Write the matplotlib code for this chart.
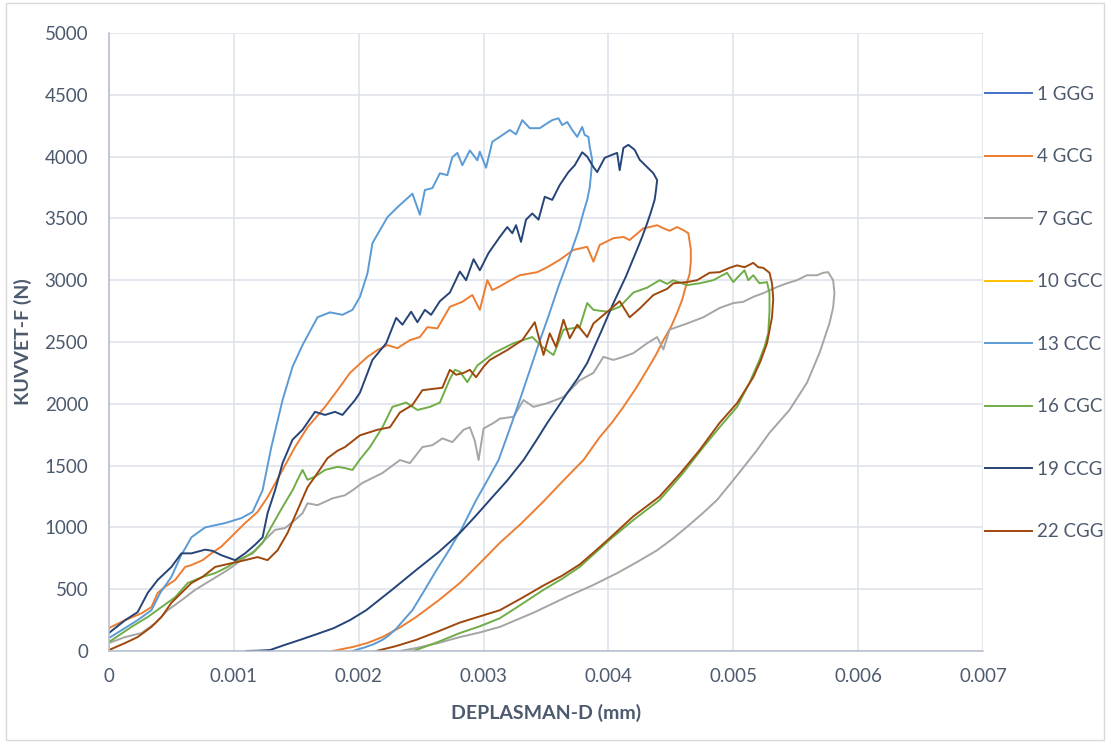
import matplotlib
matplotlib.use("Agg")
import matplotlib.pyplot as plt
from matplotlib.patches import Rectangle
import numpy as np

plt.rcParams['font.family'] = ['Lato', 'DejaVu Sans']

# Displacement values are given in units of 1e-3 mm, force in N
labels = ["1 GGG", "4 GCG", "7 GGC", "10 GCC", "13 CCC", "16 CGC", "19 CCG", "22 CGG"]
colors = ["#4472C4", "#ED7D31", "#A5A5A5", "#FFC000", "#5B9BD5", "#70AD47", "#264478", "#9E480E"]

ggg_x = []
ggg_y = []

gcc_x = []
gcc_y = []

gcg_x = [0, 0.13, 0.26, 0.34, 0.39, 0.45, 0.53, 0.61, 0.66, 0.75, 0.82, 0.90, 1.01, 1.09, 1.19, 1.27,
         1.39, 1.49, 1.59, 1.73, 1.83, 1.93, 2.07, 2.15, 2.23, 2.31, 2.41, 2.49, 2.55, 2.63, 2.73, 2.83,
         2.91, 2.97, 3.03, 3.07, 3.13, 3.19, 3.29, 3.43, 3.51, 3.61, 3.72, 3.83, 3.88, 3.93, 4.04, 4.12,
         4.17, 4.28, 4.33, 4.39, 4.44, 4.49, 4.55, 4.60, 4.64,
         4.66, 4.66, 4.65, 4.62, 4.59, 4.55, 4.50, 4.44, 4.38, 4.31, 4.22, 4.12, 4.03, 3.93, 3.80, 3.64,
         3.47, 3.30, 3.13, 2.97, 2.81, 2.64, 2.46, 2.33, 2.19, 2.07, 1.95, 1.79]
gcg_y = [186, 250, 305, 355, 470, 520, 575, 680, 695, 735, 790, 845, 955, 1035, 1125, 1245,
         1465, 1650, 1810, 1975, 2110, 2250, 2380, 2435, 2475, 2450, 2515, 2540, 2620, 2610, 2785, 2825,
         2880, 2760, 3000, 2920, 2950, 2985, 3040, 3065, 3105, 3165, 3245, 3270, 3150, 3285, 3340, 3350,
         3325, 3420, 3430, 3445, 3420, 3400, 3430, 3405, 3380,
         3250, 3150, 3050, 2950, 2840, 2735, 2620, 2515, 2395, 2275, 2125, 1975, 1850, 1730, 1545, 1380,
         1200, 1030, 875, 710, 550, 410, 275, 190, 113, 65, 32, 0]

ggc_x = [0, 0.13, 0.26, 0.37, 0.47, 0.58, 0.69, 0.82, 0.95, 1.06, 1.17, 1.25, 1.33, 1.41, 1.49, 1.55,
         1.59, 1.67, 1.79, 1.89, 1.95, 2.03, 2.19, 2.33, 2.41, 2.51, 2.59, 2.67, 2.75, 2.84, 2.89, 2.93,
         2.96, 3.00, 3.08, 3.13, 3.24, 3.32, 3.40, 3.51, 3.64, 3.77, 3.88, 3.96, 4.04, 4.12, 4.20, 4.31,
         4.39, 4.44, 4.49, 4.63, 4.76, 4.89, 5.00, 5.08, 5.16, 5.24, 5.35, 5.43, 5.51, 5.59, 5.67, 5.72,
         5.76, 5.80, 5.81,
         5.80, 5.77, 5.73, 5.69, 5.64, 5.59, 5.45, 5.29, 5.19, 5.03, 4.87, 4.75, 4.63, 4.51, 4.39, 4.23,
         4.07, 3.87, 3.67, 3.40, 3.13, 2.97, 2.81, 2.64, 2.46, 2.33]
ggc_y = [65, 113, 145, 225, 330, 410, 495, 575, 655, 735, 815, 900, 980, 995, 1060, 1115,
         1195, 1180, 1235, 1260, 1300, 1360, 1440, 1545, 1520, 1650, 1665, 1720, 1690, 1790, 1810, 1700,
         1545, 1800, 1845, 1880, 1895, 2030, 1975, 2005, 2055, 2190, 2250, 2380, 2355, 2380, 2410, 2490,
         2540, 2440, 2600, 2650, 2700, 2775, 2815, 2825, 2865, 2895, 2945, 2975, 3000, 3040, 3040, 3060,
         3065, 3000, 2895,
         2780, 2650, 2530, 2410, 2290, 2170, 1950, 1765, 1625, 1420, 1222, 1110, 1005, 905, 815, 720,
         630, 530, 440, 310, 195, 150, 113, 65, 24, 0]

ccc_x = [0, 0.23, 0.34, 0.41, 0.50, 0.58, 0.61, 0.66, 0.77, 0.93, 1.06, 1.15, 1.23, 1.30, 1.39, 1.47,
         1.55, 1.67, 1.77, 1.87, 1.95, 2.01, 2.07, 2.11, 2.23, 2.31, 2.43, 2.49, 2.53, 2.59, 2.65, 2.71,
         2.75, 2.79, 2.83, 2.89, 2.95, 2.97, 3.02, 3.07, 3.13, 3.21, 3.26, 3.31, 3.37, 3.45, 3.51, 3.55,
         3.60, 3.63, 3.67, 3.71, 3.75, 3.79, 3.81, 3.84, 3.85, 3.87,
         3.86, 3.85, 3.83, 3.80, 3.76, 3.68, 3.60, 3.52, 3.44, 3.36, 3.28, 3.20, 3.12, 3.03, 2.94, 2.82,
         2.72, 2.62, 2.52, 2.43, 2.36, 2.30, 2.24, 2.19, 2.12, 2.05, 1.95]
ccc_y = [105, 250, 330, 470, 600, 780, 830, 920, 1000, 1035, 1075, 1125, 1300, 1650, 2030, 2300,
         2475, 2700, 2740, 2720, 2760, 2865, 3055, 3300, 3510, 3590, 3700, 3530, 3730, 3745, 3865, 3850,
         3995, 4030, 3930, 4050, 3970, 4040, 3910, 4120, 4160, 4215, 4180, 4295, 4230, 4230, 4270, 4295,
         4310, 4255, 4280, 4215, 4160, 4240, 4175, 4160, 4080, 3975,
         3850, 3750, 3650, 3550, 3400, 3170, 2950, 2710, 2480, 2240, 2000, 1770, 1545, 1380, 1220, 980,
         810, 650, 480, 330, 250, 180, 125, 90, 55, 30, 0]

cgc_x = [0, 0.18, 0.31, 0.42, 0.53, 0.63, 0.75, 0.85, 0.95, 1.03, 1.15, 1.23, 1.30, 1.39, 1.47, 1.51,
         1.55, 1.59, 1.65, 1.73, 1.83, 1.89, 1.95, 2.01, 2.09, 2.19, 2.27, 2.38, 2.47, 2.57, 2.65, 2.73,
         2.77, 2.81, 2.87, 2.95, 3.08, 3.24, 3.39, 3.47, 3.56, 3.64, 3.77, 3.83, 3.88, 3.99, 4.09, 4.20,
         4.31, 4.41, 4.47, 4.52, 4.63, 4.73, 4.84, 4.95, 5.00, 5.05, 5.09, 5.12, 5.16, 5.21, 5.27, 5.29,
         5.29, 5.28, 5.25, 5.21, 5.13, 5.03, 4.89, 4.76, 4.59, 4.41, 4.20, 4.01, 3.89, 3.77, 3.63, 3.48,
         3.30, 3.13, 2.97, 2.81, 2.64, 2.46, 2.43]
cgc_y = [73, 195, 275, 355, 435, 550, 600, 630, 680, 735, 790, 875, 1005, 1165, 1300, 1385,
         1465, 1385, 1410, 1465, 1490, 1480, 1465, 1550, 1650, 1810, 1975, 2010, 1950, 1975, 2010, 2200,
         2275, 2260, 2175, 2310, 2410, 2490, 2540, 2460, 2395, 2600, 2620, 2815, 2760, 2745, 2785, 2900,
         2940, 3000, 2970, 3000, 2960, 2975, 3000, 3060, 2985, 3040, 3080, 3000, 3040, 2975, 2985, 2895,
         2750, 2570, 2460, 2355, 2170, 1975, 1810, 1650, 1430, 1222, 1060, 900, 790, 680, 585, 495,
         375, 265, 200, 145, 75, 8, 0]

ccg_x = [0, 0.13, 0.23, 0.31, 0.39, 0.50, 0.58, 0.66, 0.77, 0.83, 0.90, 1.01, 1.09, 1.17, 1.23, 1.27,
         1.33, 1.39, 1.47, 1.55, 1.65, 1.73, 1.81, 1.87, 1.97, 2.01, 2.11, 2.22, 2.30, 2.35, 2.42, 2.47,
         2.53, 2.58, 2.65, 2.73, 2.81, 2.86, 2.92, 2.97, 3.04, 3.13, 3.19, 3.23, 3.26, 3.30, 3.34, 3.39,
         3.44, 3.49, 3.55, 3.61, 3.68, 3.73, 3.79, 3.83, 3.88, 3.91, 3.97, 4.03, 4.07, 4.09, 4.12, 4.16,
         4.21, 4.25, 4.31, 4.36, 4.39,
         4.38, 4.37, 4.34, 4.31, 4.27, 4.23, 4.14, 4.04, 3.94, 3.83, 3.75, 3.67, 3.59, 3.51, 3.42, 3.32,
         3.19, 3.05, 2.93, 2.81, 2.64, 2.46, 2.26, 2.06, 1.93, 1.80, 1.66, 1.53, 1.41, 1.29, 1.20, 1.10]
ccg_y = [146, 250, 315, 470, 575, 680, 790, 790, 820, 810, 775, 735, 790, 860, 920, 1115,
         1300, 1520, 1710, 1790, 1935, 1910, 1935, 1910, 2030, 2090, 2355, 2490, 2695, 2640, 2745, 2660,
         2760, 2720, 2830, 2900, 3070, 3000, 3170, 3080, 3220, 3350, 3430, 3380, 3445, 3310, 3490, 3540,
         3490, 3675, 3650, 3770, 3875, 3930, 4035, 4000, 3915, 3875, 3990, 4015, 4030, 3890, 4070, 4095,
         4055, 3975, 3915, 3865, 3810,
         3720, 3650, 3550, 3460, 3350, 3250, 3030, 2815, 2580, 2330, 2200, 2087, 1965, 1845, 1700, 1545,
         1380, 1222, 1085, 955, 800, 655, 490, 330, 250, 185, 135, 90, 50, 8, 3, 0]

cgg_x = [0, 0.13, 0.23, 0.34, 0.42, 0.50, 0.58, 0.66, 0.75, 0.85, 0.98, 1.09, 1.19, 1.27, 1.35, 1.43,
         1.51, 1.59, 1.67, 1.75, 1.83, 1.89, 2.01, 2.15, 2.25, 2.33, 2.43, 2.51, 2.67, 2.73, 2.78, 2.84,
         2.89, 2.94, 3.00, 3.05, 3.19, 3.31, 3.41, 3.48, 3.53, 3.58, 3.64, 3.69, 3.75, 3.83, 3.88, 3.98,
         4.09, 4.17, 4.25, 4.36, 4.47, 4.52, 4.63, 4.71, 4.81, 4.89, 4.97, 5.03, 5.09, 5.16, 5.20, 5.24,
         5.29, 5.31,
         5.32, 5.31, 5.27, 5.22, 5.16, 5.03, 4.89, 4.73, 4.57, 4.41, 4.20, 4.01, 3.89, 3.77, 3.63, 3.48,
         3.30, 3.13, 2.97, 2.81, 2.64, 2.46, 2.30, 2.14]
cgg_y = [8, 65, 113, 195, 275, 390, 470, 550, 600, 680, 710, 735, 760, 735, 815, 955,
         1140, 1325, 1440, 1560, 1620, 1650, 1745, 1790, 1810, 1930, 1990, 2110, 2130, 2275, 2235, 2250,
         2275, 2215, 2300, 2355, 2435, 2515, 2660, 2395, 2570, 2460, 2680, 2530, 2640, 2540, 2650, 2735,
         2830, 2700, 2770, 2880, 2930, 2975, 2985, 3000, 3060, 3065, 3100, 3120, 3105, 3140, 3105, 3100,
         3060, 2975,
         2850, 2700, 2490, 2350, 2215, 2005, 1845, 1625, 1430, 1250, 1090, 913, 805, 700, 610, 530,
         425, 330, 280, 230, 160, 90, 40, 0]

series_x = [ggg_x, gcg_x, ggc_x, gcc_x, ccc_x, cgc_x, ccg_x, cgg_x]
series_y = [ggg_y, gcg_y, ggc_y, gcc_y, ccc_y, cgc_y, ccg_y, cgg_y]

x_ticks = [0, 0.001, 0.002, 0.003, 0.004, 0.005, 0.006, 0.007]
x_tick_labels = ["0", "0.001", "0.002", "0.003", "0.004", "0.005", "0.006", "0.007"]
y_ticks = list(range(0, 5001, 500))

text_color = "#4d5a6e"
grid_color = "#dde2ea"

fig = plt.figure(figsize=(11.10, 7.42), dpi=100)
ax = fig.add_axes([109/1110, 1 - 651/742, (983 - 109)/1110, (651 - 33)/742])

for xs, ys, lab, col in zip(series_x, series_y, labels, colors):
    ax.plot(np.array(xs, dtype=float) * 1e-3, ys, color=col, lw=1.4, label=lab,
            solid_joinstyle='round')

ax.set_xlim(0, 0.007)
ax.set_ylim(0, 5000)
ax.set_xticks(x_ticks)
ax.set_xticklabels(x_tick_labels)
ax.set_yticks(y_ticks)
ax.grid(True, color=grid_color, lw=1.1)
ax.set_axisbelow(True)
for s in ["top", "right"]:
    ax.spines[s].set_visible(False)
for s in ["left", "bottom"]:
    ax.spines[s].set_color("#b4bccb")
    ax.spines[s].set_linewidth(1.1)
ax.tick_params(length=0, labelsize=13.5, colors=text_color)
ax.tick_params(axis='x', pad=12)
ax.tick_params(axis='y', pad=15)

ax.set_xlabel("DEPLASMAN-D (mm)", fontsize=14, fontweight='bold', color=text_color, labelpad=14)
ax.set_ylabel("KUVVET-F (N)", fontsize=14, fontweight='bold', color=text_color, labelpad=9)

leg = ax.legend(loc='upper left', bbox_to_anchor=(1.0, 0.918), frameon=False,
                fontsize=13.5, handlelength=2.5, handletextpad=0.27, labelspacing=2.43,
                borderaxespad=0.1, borderpad=0.0)
for t in leg.get_texts():
    t.set_color(text_color)

fig.add_artist(Rectangle((6/1110, 2/742), 1098/1110, 737/742, transform=fig.transFigure,
                         fill=False, edgecolor="#d9d9d9", lw=1.0))

fig.savefig("out.png", dpi=100)
